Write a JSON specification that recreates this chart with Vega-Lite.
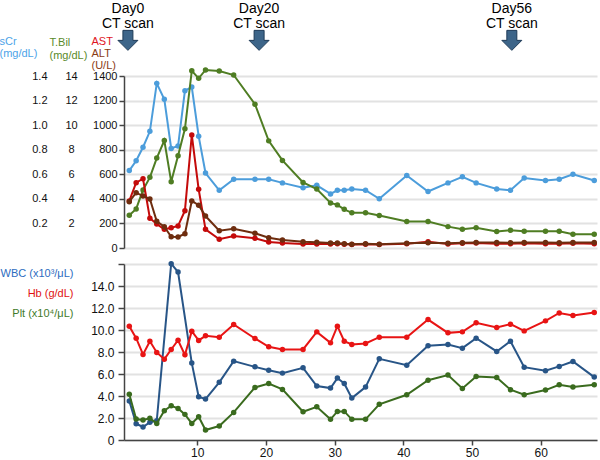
{
  "$schema": "https://vega.github.io/schema/vega-lite/v6.json",
  "width": 473,
  "height": 364,
  "autosize": {"type": "none"},
  "padding": {"left": 124, "top": 76, "right": 3, "bottom": 20},
  "background": "white",
  "config": {
    "view": {"stroke": null},
    "font": "Liberation Sans",
    "axis": {
      "labelFont": "Liberation Sans",
      "titleFont": "Liberation Sans",
      "labelColor": "#111111",
      "domainColor": "#444444",
      "tickColor": "#444444",
      "gridColor": "#e2e2e2",
      "gridWidth": 2,
      "titleFontWeight": "normal"
    }
  },
  "datasets": {
    "labs": [
      {"day": 0.1, "sCr": 0.63, "TBil": 2.66, "AST": 383, "ALT": 377, "WBC": 3.54, "Hb": 10.35, "Plt": 4.15},
      {"day": 1.1, "sCr": 0.71, "TBil": 3.18, "AST": 532, "ALT": 450, "WBC": 1.48, "Hb": 9.26, "Plt": 1.9},
      {"day": 2.1, "sCr": 0.82, "TBil": 4.72, "AST": 564, "ALT": 423, "WBC": 1.18, "Hb": 7.78, "Plt": 1.81},
      {"day": 3.1, "sCr": 0.95, "TBil": 5.75, "AST": 242, "ALT": 399, "WBC": 1.61, "Hb": 8.98, "Plt": 1.97},
      {"day": 4.1, "sCr": 1.34, "TBil": 7.32, "AST": 195, "ALT": 217, "WBC": 1.75, "Hb": 7.96, "Plt": 1.51},
      {"day": 5.2, "sCr": 1.21, "TBil": 8.75, "AST": 152, "ALT": 173, "WBC": null, "Hb": 7.35, "Plt": 2.66},
      {"day": 6.2, "sCr": 0.81, "TBil": 5.4, "AST": 165, "ALT": 92, "WBC": 16.03, "Hb": 8.23, "Plt": 3.11},
      {"day": 7.2, "sCr": 0.83, "TBil": 7.51, "AST": 179, "ALT": 90, "WBC": 15.27, "Hb": 9.07, "Plt": 2.87},
      {"day": 8.2, "sCr": 1.28, "TBil": 9.7, "AST": 304, "ALT": 116, "WBC": null, "Hb": 7.74, "Plt": 2.33},
      {"day": 9.2, "sCr": 1.31, "TBil": 14.43, "AST": 920, "ALT": 383, "WBC": 6.99, "Hb": 9.89, "Plt": 1.51},
      {"day": 10.2, "sCr": 0.91, "TBil": 13.81, "AST": 478, "ALT": 348, "WBC": 3.93, "Hb": 9.05, "Plt": 2.12},
      {"day": 11.2, "sCr": 0.61, "TBil": 14.49, "AST": 152, "ALT": 260, "WBC": 3.72, "Hb": 9.47, "Plt": 0.91},
      {"day": 13.2, "sCr": 0.47, "TBil": 14.41, "AST": 71, "ALT": 141, "WBC": 5.24, "Hb": 9.35, "Plt": 1.27},
      {"day": 15.3, "sCr": 0.56, "TBil": 14.08, "AST": 98, "ALT": 157, "WBC": 7.17, "Hb": 10.5, "Plt": 2.51},
      {"day": 18.4, "sCr": 0.56, "TBil": 11.7, "AST": 79, "ALT": 120, "WBC": 6.65, "Hb": 9.23, "Plt": 4.78},
      {"day": 20.4, "sCr": 0.56, "TBil": 8.72, "AST": 49, "ALT": 84, "WBC": 6.35, "Hb": 8.47, "Plt": 5.14},
      {"day": 22.4, "sCr": 0.53, "TBil": 7.13, "AST": 41, "ALT": 65, "WBC": 6.08, "Hb": 8.23, "Plt": 4.6},
      {"day": 25.4, "sCr": 0.49, "TBil": 5.34, "AST": 33, "ALT": 51, "WBC": 6.56, "Hb": 8.23, "Plt": 2.57},
      {"day": 27.4, "sCr": 0.51, "TBil": 4.8, "AST": 33, "ALT": 46, "WBC": 4.9, "Hb": 9.83, "Plt": 3.02},
      {"day": 29.4, "sCr": 0.44, "TBil": 3.67, "AST": 33, "ALT": 41, "WBC": 4.72, "Hb": 8.83, "Plt": 1.88},
      {"day": 30.4, "sCr": 0.47, "TBil": 3.51, "AST": 35, "ALT": 41, "WBC": 5.63, "Hb": 10.35, "Plt": 2.6},
      {"day": 31.4, "sCr": 0.47, "TBil": 3.15, "AST": 30, "ALT": 35, "WBC": 5.14, "Hb": 8.98, "Plt": 2.6},
      {"day": 32.5, "sCr": 0.48, "TBil": 2.86, "AST": 28, "ALT": 30, "WBC": 3.81, "Hb": 8.68, "Plt": 1.88},
      {"day": 34.5, "sCr": 0.47, "TBil": 2.86, "AST": 30, "ALT": 35, "WBC": 4.81, "Hb": 8.77, "Plt": 1.88},
      {"day": 36.5, "sCr": 0.4, "TBil": 2.64, "AST": 28, "ALT": 30, "WBC": 7.38, "Hb": 9.35, "Plt": 3.24},
      {"day": 40.5, "sCr": 0.59, "TBil": 2.15, "AST": 35, "ALT": 38, "WBC": 6.8, "Hb": 9.35, "Plt": 4.11},
      {"day": 43.6, "sCr": 0.46, "TBil": 2.15, "AST": 50, "ALT": 42, "WBC": 8.56, "Hb": 10.95, "Plt": 5.44},
      {"day": 46.5, "sCr": 0.53, "TBil": 1.74, "AST": 32, "ALT": 38, "WBC": 8.68, "Hb": 9.74, "Plt": 5.9},
      {"day": 48.6, "sCr": 0.58, "TBil": 1.53, "AST": 38, "ALT": 42, "WBC": 8.35, "Hb": 9.83, "Plt": 4.69},
      {"day": 50.6, "sCr": 0.53, "TBil": 1.64, "AST": 40, "ALT": 45, "WBC": 9.26, "Hb": 10.65, "Plt": 5.78},
      {"day": 53.6, "sCr": 0.48, "TBil": 1.34, "AST": 35, "ALT": 45, "WBC": 8.05, "Hb": 10.23, "Plt": 5.69},
      {"day": 55.6, "sCr": 0.47, "TBil": 1.44, "AST": 35, "ALT": 42, "WBC": 8.98, "Hb": 10.53, "Plt": 4.57},
      {"day": 57.6, "sCr": 0.57, "TBil": 1.36, "AST": 38, "ALT": 45, "WBC": 6.62, "Hb": 9.92, "Plt": 4.11},
      {"day": 60.7, "sCr": 0.55, "TBil": 1.36, "AST": 35, "ALT": 45, "WBC": 6.29, "Hb": 10.83, "Plt": 4.54},
      {"day": 62.7, "sCr": 0.56, "TBil": 1.36, "AST": 35, "ALT": 42, "WBC": 6.69, "Hb": 11.55, "Plt": 5.02},
      {"day": 64.7, "sCr": 0.6, "TBil": 1.12, "AST": 38, "ALT": 45, "WBC": 7.14, "Hb": 11.31, "Plt": 4.81},
      {"day": 67.8, "sCr": 0.55, "TBil": 1.12, "AST": 35, "ALT": 45, "WBC": 5.72, "Hb": 11.59, "Plt": 5.02}
    ],
    "events": [
      {"day": -0.1, "label": "Day0|CT scan"},
      {"day": 19.0, "label": "Day20|CT scan"},
      {"day": 55.8, "label": "Day56|CT scan"}
    ]
  },
  "data": {"name": "labs"},
  "encoding": {
    "x": {
      "field": "day",
      "type": "quantitative",
      "scale": {"domain": [-0.67, 68.2], "nice": false, "zero": false},
      "axis": {
        "values": [10, 20, 30, 40, 50, 60],
        "title": null,
        "grid": false,
        "tickSize": 5,
        "labelPadding": 2,
        "labelFontSize": 12,
        "domainWidth": 1.5,
        "tickWidth": 1.5
      }
    }
  },
  "layer": [
    {
      "mark": {"type": "line", "color": "#4c9ddb", "strokeWidth": 2, "point": {"filled": true, "size": 30, "color": "#4c9ddb"}},
      "encoding": {
        "y": {
          "field": "sCr", "type": "quantitative",
          "scale": {"domain": [0, 1.4], "range": [172, 0], "nice": false, "zero": false},
          "axis": {
            "orient": "left", "offset": 75, "values": [0.2, 0.4, 0.6, 0.8, 1.0, 1.2, 1.4], "format": ".1f",
            "domain": false, "ticks": false, "tickSize": 0, "grid": false, "labelPadding": 2, "labelFontSize": 11,
            "title": ["sCr", "(mg/dL)"], "titleColor": "#4da3e8", "titleFontSize": 11, "titleAngle": 0,
            "titleAlign": "left", "titleBaseline": "alphabetic", "titleX": -50, "titleY": -32, "titleLineHeight": 12
          }
        }
      }
    },
    {
      "mark": {"type": "line", "color": "#4f7d23", "strokeWidth": 2, "point": {"filled": true, "size": 30, "color": "#4f7d23"}},
      "encoding": {
        "y": {
          "field": "TBil", "type": "quantitative",
          "scale": {"domain": [0, 14], "range": [172, 0], "nice": false, "zero": false},
          "axis": {
            "orient": "left", "offset": 51, "values": [2, 4, 6, 8, 10, 12, 14], "format": "d",
            "domain": false, "ticks": false, "tickSize": 0, "grid": false, "labelPadding": 2, "labelFontSize": 11,
            "labelAlign": "center",
            "title": ["T.Bil", "(mg/dL)"], "titleColor": "#5a8a2a", "titleFontSize": 11, "titleAngle": 0,
            "titleAlign": "left", "titleBaseline": "alphabetic", "titleX": -24, "titleY": -31, "titleLineHeight": 13
          }
        }
      }
    },
    {
      "mark": {"type": "line", "color": "#c40a0a", "strokeWidth": 2, "point": {"filled": true, "size": 30, "color": "#c40a0a"}},
      "encoding": {
        "y": {
          "field": "AST", "type": "quantitative",
          "scale": {"domain": [0, 1400], "range": [172, 0], "nice": false, "zero": false},
          "axis": {
            "orient": "left", "offset": 0, "values": [0, 200, 400, 600, 800, 1000, 1200, 1400], "format": "d",
            "grid": true, "tickSize": 5, "labelPadding": 2, "labelFontSize": 11, "domainWidth": 1.5, "tickWidth": 1.5,
            "title": "AST", "titleColor": "#e0141e", "titleFontSize": 11, "titleAngle": 0,
            "titleAlign": "left", "titleBaseline": "alphabetic", "titleX": -33, "titleY": -32
          }
        }
      }
    },
    {
      "mark": {"type": "line", "color": "#6e2d0f", "strokeWidth": 2, "point": {"filled": true, "size": 30, "color": "#6e2d0f"}},
      "encoding": {
        "y": {
          "field": "ALT", "type": "quantitative",
          "scale": {"domain": [0, 1400], "range": [172, 0], "nice": false, "zero": false},
          "axis": {
            "orient": "left", "offset": 0, "labels": false, "ticks": false, "domain": false, "grid": false,
            "title": ["ALT", "(U/L)"], "titleColor": "#8a3c14", "titleFontSize": 11, "titleAngle": 0,
            "titleAlign": "left", "titleBaseline": "alphabetic", "titleX": -33, "titleY": -20, "titleLineHeight": 12
          }
        }
      }
    },
    {
      "transform": [{"filter": "isValid(datum.WBC)"}],
      "mark": {"type": "line", "color": "#285587", "strokeWidth": 2, "point": {"filled": true, "size": 30, "color": "#285587"}},
      "encoding": {
        "y": {
          "field": "WBC", "type": "quantitative",
          "scale": {"domain": [0, 16], "range": [364, 188], "nice": false, "zero": false},
          "axis": {
            "orient": "left", "offset": 0, "values": [0, 2, 4, 6, 8, 10, 12, 14, 16],
            "labelExpr": "datum.value == 16 ? '' : (datum.value == 0 ? '0' : format(datum.value, '.1f'))",
            "grid": true, "tickSize": 6, "labelPadding": 4, "labelFontSize": 12, "domainWidth": 1.5, "tickWidth": 1.5,
            "title": "WBC (x10³/μL)", "titleColor": "#2d6cc0", "titleFontSize": 11, "titleAngle": 0,
            "titleAlign": "right", "titleBaseline": "alphabetic", "titleX": -51, "titleY": 200
          }
        }
      }
    },
    {
      "mark": {"type": "line", "color": "#e81414", "strokeWidth": 2, "point": {"filled": true, "size": 30, "color": "#e81414"}},
      "encoding": {
        "y": {
          "field": "Hb", "type": "quantitative",
          "scale": {"domain": [0, 16], "range": [364, 188], "nice": false, "zero": false},
          "axis": {
            "orient": "left", "offset": 0, "labels": false, "ticks": false, "domain": false, "grid": false,
            "title": "Hb (g/dL)", "titleColor": "#e01010", "titleFontSize": 11, "titleAngle": 0,
            "titleAlign": "right", "titleBaseline": "alphabetic", "titleX": -51, "titleY": 220
          }
        }
      }
    },
    {
      "mark": {"type": "line", "color": "#3a6b1e", "strokeWidth": 2, "point": {"filled": true, "size": 30, "color": "#3a6b1e"}},
      "encoding": {
        "y": {
          "field": "Plt", "type": "quantitative",
          "scale": {"domain": [0, 16], "range": [364, 188], "nice": false, "zero": false},
          "axis": {
            "orient": "left", "offset": 0, "labels": false, "ticks": false, "domain": false, "grid": false,
            "title": "Plt (x10⁴/μL)", "titleColor": "#3f7a2a", "titleFontSize": 11, "titleAngle": 0,
            "titleAlign": "right", "titleBaseline": "alphabetic", "titleX": -51, "titleY": 240
          }
        }
      }
    },
    {
      "data": {"name": "events"},
      "mark": {"type": "text", "fontSize": 14, "lineBreak": "|", "lineHeight": 14.5, "baseline": "alphabetic", "align": "center", "color": "#000000"},
      "encoding": {
        "text": {"field": "label"},
        "y": {"datum": 1910, "type": "quantitative", "scale": {"domain": [0, 1400], "range": [172, 0], "nice": false, "zero": false}, "axis": null}
      }
    },
    {
      "data": {"name": "events"},
      "mark": {"type": "point", "shape": "M-0.5,-1L0.5,-1L0.5,0L1,0L0,1L-1,0L-0.5,0Z", "size": 400, "filled": true, "fill": "#3d6589", "stroke": "#1f3b57", "strokeWidth": 1, "opacity": 1},
      "encoding": {
        "y": {"datum": 1690, "type": "quantitative", "scale": {"domain": [0, 1400], "range": [172, 0], "nice": false, "zero": false}, "axis": null}
      }
    }
  ],
  "resolve": {"scale": {"y": "independent"}, "axis": {"y": "independent"}}
}
